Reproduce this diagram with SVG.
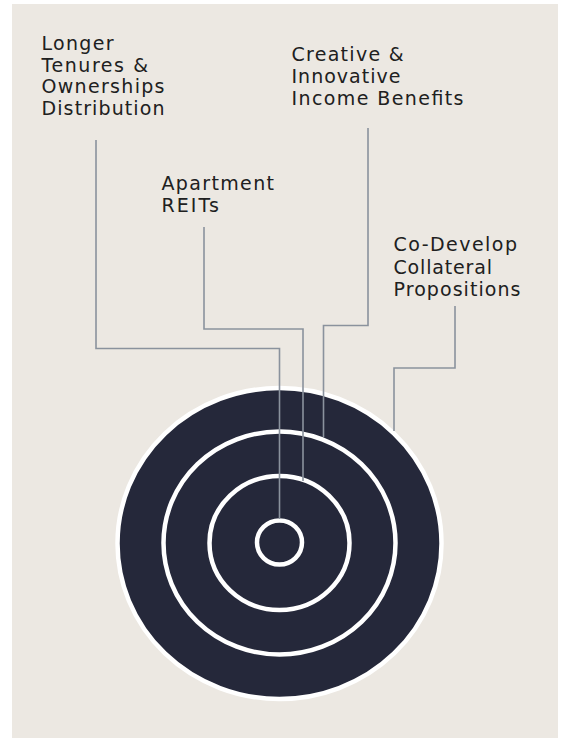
<svg xmlns="http://www.w3.org/2000/svg" width="563" height="738" viewBox="0 0 563 738">
  <style>
    .label { font-family: "DejaVu Sans", "Liberation Sans", sans-serif; font-size: 19px; fill: #202020; }
    .ring { fill: none; stroke: #ffffff; stroke-width: 4.5; }
    .link { fill: none; stroke: #8a929d; stroke-width: 1.6; }
  </style>
  <rect x="0" y="0" width="563" height="738" fill="#ffffff"/>
  <rect x="12" y="4" width="546" height="734" fill="#ece8e2"/>

  <!-- target rings -->
  <g id="target">
    <ellipse cx="279.5" cy="543.5" rx="162" ry="155.5" fill="#25283a" stroke="#ffffff" stroke-width="4.5"/>
    <ellipse class="ring" cx="279.5" cy="543" rx="116" ry="111.5"/>
    <ellipse class="ring" cx="279.5" cy="543" rx="70" ry="67"/>
    <ellipse class="ring" cx="279.5" cy="542.5" rx="22.5" ry="22"/>
  </g>

  <!-- leader lines from each label to its ring -->
  <g id="connectors">
    <polyline class="link" points="96,140 96,348.5 279.5,348.5 279.5,519"/>
    <polyline class="link" points="204,227 204,329 303,329 303,481"/>
    <polyline class="link" points="368,128 368,325.5 323.5,325.5 323.5,437"/>
    <polyline class="link" points="455,306 455,368 394,368 394,431"/>
  </g>

  <g id="label-tenures">
    <text class="label" x="41.5" y="50" textLength="72" lengthAdjust="spacing">Longer</text>
    <text class="label" x="41.5" y="71.5" textLength="106.5" lengthAdjust="spacing">Tenures &amp;</text>
    <text class="label" x="41.5" y="93" textLength="123" lengthAdjust="spacing">Ownerships</text>
    <text class="label" x="41.5" y="114.5" textLength="123" lengthAdjust="spacing">Distribution</text>
  </g>

  <g id="label-income">
    <text class="label" x="291.5" y="61" textLength="112" lengthAdjust="spacing">Creative &amp;</text>
    <text class="label" x="291.5" y="83" textLength="109" lengthAdjust="spacing">Innovative</text>
    <text class="label" x="291.5" y="105" textLength="172" lengthAdjust="spacing">Income Benefits</text>
  </g>

  <g id="label-reits">
    <text class="label" x="161.5" y="189.5" textLength="112.5" lengthAdjust="spacing">Apartment</text>
    <text class="label" x="161.5" y="211.5" textLength="57.5" lengthAdjust="spacing">REITs</text>
  </g>

  <g id="label-collateral">
    <text class="label" x="393.5" y="251" textLength="123.5" lengthAdjust="spacing">Co-Develop</text>
    <text class="label" x="393.5" y="273.5" textLength="98.5" lengthAdjust="spacing">Collateral</text>
    <text class="label" x="393.5" y="295.5" textLength="127" lengthAdjust="spacing">Propositions</text>
  </g>
</svg>
